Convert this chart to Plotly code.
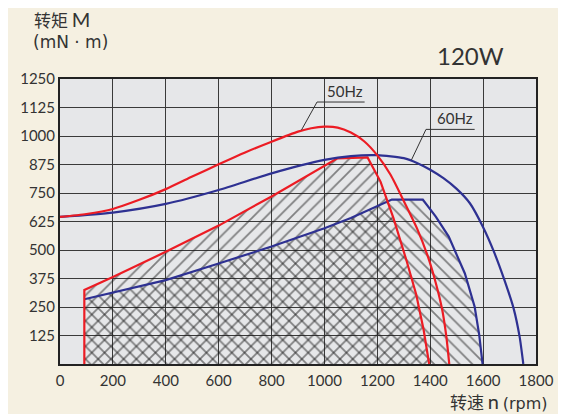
import plotly.graph_objects as go

# 50Hz max torque curve
rpm_50_max = [0, 100, 200, 300, 400, 500, 600, 700, 800, 900, 950, 1000, 1050, 1100, 1150, 1200,
              1250, 1300, 1350, 1390, 1420, 1445, 1461, 1472]
m_50_max = [645, 658, 680, 720, 767, 822, 876, 928, 975, 1019, 1034, 1041, 1037, 1015, 977, 915,
            830, 715, 595, 475, 360, 240, 120, 0]

# 60Hz max torque curve
rpm_60_max = [0, 200, 400, 600, 800, 1000, 1100, 1200, 1300, 1350, 1400, 1450, 1500, 1550,
              1600, 1640, 1680, 1715, 1738, 1752]
m_60_max = [645, 664, 702, 763, 836, 895, 912, 916, 903, 882, 852, 815, 768, 705,
            600, 495, 370, 245, 120, 0]

# 50Hz usable (hatched) region
rpm_50_use = [92, 92, 200, 400, 600, 800, 1049, 1163, 1212, 1261, 1310, 1347, 1375, 1396]
m_50_use = [0, 325, 382, 492, 607, 735, 902, 906, 800, 640, 455, 305, 150, 0]

# 60Hz usable (hatched) region
rpm_60_use = [92, 92, 400, 600, 800, 1000, 1100, 1255, 1372, 1421, 1470, 1531, 1568, 1585, 1598]
m_60_use = [0, 284, 368, 441, 515, 595, 640, 721, 721, 646, 559, 397, 251, 130, 0]

x_ticks = [0, 200, 400, 600, 800, 1000, 1200, 1400, 1600, 1800]
y_ticks = [125, 250, 375, 500, 625, 750, 875, 1000, 1125, 1250]

RED = '#ec1c24'
BLUE = '#2e3192'
HATCH = '#1a1a1a'
TXT = '#333333'
FONT = 'Lato'
WIDE = 'DejaVu Sans'
CJK = 'Noto Sans CJK SC'

fig = go.Figure()

# hatched areas
fig.add_trace(go.Scatter(
    x=rpm_60_use, y=m_60_use, mode='none', fill='toself',
    fillcolor='rgba(0,0,0,0)',
    fillpattern=dict(shape='\\', size=9, solidity=0.2, fgcolor=HATCH, bgcolor='rgba(0,0,0,0)'),
    hoverinfo='skip', showlegend=False
))
fig.add_trace(go.Scatter(
    x=rpm_50_use, y=m_50_use, mode='none', fill='toself',
    fillcolor='rgba(0,0,0,0)',
    fillpattern=dict(shape='/', size=9, solidity=0.2, fgcolor=HATCH, bgcolor='rgba(0,0,0,0)'),
    hoverinfo='skip', showlegend=False
))

# boundary lines
fig.add_trace(go.Scatter(x=rpm_60_use[1:], y=m_60_use[1:], mode='lines',
                         line=dict(color=BLUE, width=2.2), showlegend=False))
fig.add_trace(go.Scatter(x=rpm_50_use, y=m_50_use, mode='lines',
                         line=dict(color=RED, width=2.2), showlegend=False))
fig.add_trace(go.Scatter(x=rpm_60_max, y=m_60_max, mode='lines',
                         line=dict(color=BLUE, width=2.2, shape='spline', smoothing=0.6),
                         showlegend=False))
fig.add_trace(go.Scatter(x=rpm_50_max, y=m_50_max, mode='lines',
                         line=dict(color=RED, width=2.2, shape='spline', smoothing=0.6),
                         showlegend=False))

# labels with leader lines
labels = [
    dict(text='50Hz', ux0=972, ux1=1152, uy=1149, lx=913, ly=1026),
    dict(text='60Hz', ux0=1384, ux1=1568, uy=1029, lx=1329, ly=895),
]
for lb in labels:
    fig.add_shape(type='line', x0=lb['ux0'], x1=lb['ux1'], y0=lb['uy'], y1=lb['uy'],
                  line=dict(color=TXT, width=1))
    fig.add_shape(type='line', x0=lb['ux0'], x1=lb['lx'], y0=lb['uy'], y1=lb['ly'],
                  line=dict(color=TXT, width=1))
    fig.add_annotation(x=lb['ux1'], y=lb['uy'], text=lb['text'], showarrow=False,
                       xanchor='right', yanchor='bottom', yshift=0,
                       font=dict(family=FONT, size=15, color=TXT))

fig.add_annotation(xref='paper', yref='paper', x=-0.059, y=1.209, xanchor='left', yanchor='middle',
                   text='转矩 <span style="font-family:Lato;font-size:20px">M</span>', showarrow=False,
                   font=dict(family=CJK, size=17, color=TXT))
fig.add_annotation(xref='paper', yref='paper', x=-0.061, y=1.131, xanchor='left', yanchor='middle',
                   text='(mN · m)', showarrow=False,
                   font=dict(family=WIDE, size=17, color=TXT))
fig.add_annotation(xref='paper', yref='paper', x=0.863, y=1.081, xanchor='center', yanchor='middle',
                   text='120W', showarrow=False,
                   font=dict(family=FONT, size=24, color=TXT))
fig.add_annotation(xref='paper', yref='paper', x=1.029, y=-0.133, xanchor='right', yanchor='middle',
                   text='转速 <span style="font-family:Lato;font-size:20px">n</span>'
                        ' <span style="font-family:DejaVu Sans;font-size:16px">(rpm)</span>',
                   showarrow=False,
                   font=dict(family=CJK, size=17, color=TXT))

fig.update_xaxes(range=[0, 1800], tickvals=x_ticks, showgrid=True, gridcolor='#3a3a3a', gridwidth=1.3,
                 zeroline=False, showline=True, linecolor='#222222', linewidth=2, mirror=True,
                 ticks='outside', ticklen=2, tickcolor='rgba(0,0,0,0)',
                 tickfont=dict(family=FONT, size=15, color=TXT))
fig.update_yaxes(range=[0, 1250], tickvals=y_ticks, showgrid=True, gridcolor='#3a3a3a', gridwidth=1.3,
                 zeroline=False, showline=True, linecolor='#222222', linewidth=2, mirror=True,
                 ticks='', tickfont=dict(family=FONT, size=15, color=TXT))

# the page adds an 8px body margin, so the figure is 8px smaller than the window
fig.update_layout(
    width=558, height=406,
    margin=dict(l=46, r=23, t=71, b=50),
    paper_bgcolor='#f5f0e1',
    plot_bgcolor='#e6e7e9',
    showlegend=False,
)

fig.write_html("out.html")
